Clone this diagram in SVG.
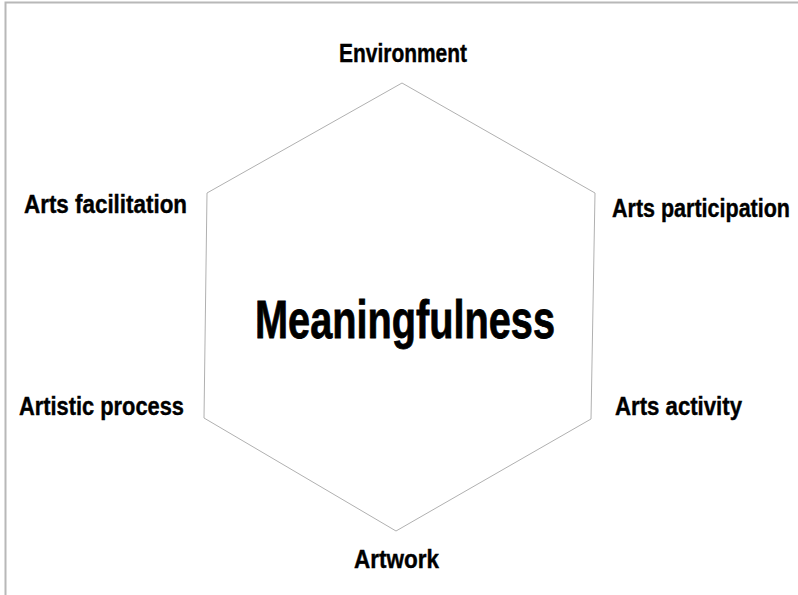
<svg xmlns="http://www.w3.org/2000/svg" width="798" height="595" viewBox="0 0 798 595">
  <style>
    .frame { stroke: #b8b8b8; stroke-width: 2; fill: none; }
    .hex { stroke: #b0b0b0; stroke-width: 1; fill: none; }
    .label { font-family: "Liberation Sans", Arial, sans-serif; font-weight: bold; font-size: 25px; fill: #000; stroke: #000; stroke-width: 0.4; }
    .title { font-family: "Liberation Sans", Arial, sans-serif; font-weight: bold; font-size: 53px; fill: #000; stroke: #000; stroke-width: 0.8; }
  </style>
  <rect width="798" height="595" fill="#fff"/>
  <!-- page frame (top and left edges) -->
  <path class="frame" d="M5.5,595 V2.5 H798"/>
  <!-- hexagon outline -->
  <g id="connectors">
    <polygon class="hex" points="402,83 595,193 591,419 396,531 204,418 207,193"/>
  </g>
  <g id="center">
    <text class="title" x="255" y="338" textLength="300" lengthAdjust="spacingAndGlyphs">Meaningfulness</text>
  </g>
  <g id="environment">
    <text class="label" x="339" y="62" textLength="128" lengthAdjust="spacingAndGlyphs">Environment</text>
  </g>
  <g id="arts-participation">
    <!-- condensed horizontally so the long label stays inside the page -->
    <text class="label" transform="translate(612,217) scale(0.87,1)" x="0" y="0" textLength="204.6" lengthAdjust="spacingAndGlyphs">Arts participation</text>
  </g>
  <g id="arts-activity">
    <text class="label" x="615" y="415" textLength="127" lengthAdjust="spacingAndGlyphs">Arts activity</text>
  </g>
  <g id="artwork">
    <text class="label" x="354" y="568" textLength="85" lengthAdjust="spacingAndGlyphs">Artwork</text>
  </g>
  <g id="artistic-process">
    <text class="label" x="19" y="415" textLength="165" lengthAdjust="spacingAndGlyphs">Artistic process</text>
  </g>
  <g id="arts-facilitation">
    <text class="label" x="24" y="213" textLength="163" lengthAdjust="spacingAndGlyphs">Arts facilitation</text>
  </g>
</svg>
